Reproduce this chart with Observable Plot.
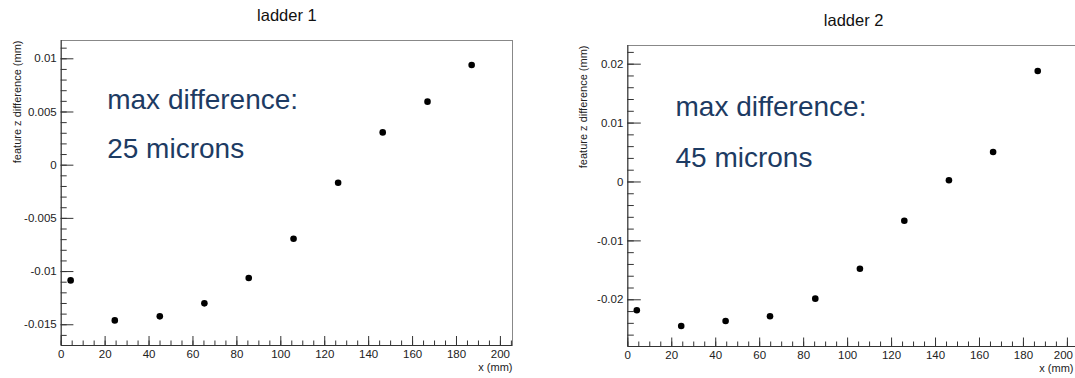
<!DOCTYPE html>
<html><head><meta charset="utf-8">
<script src="https://cdn.jsdelivr.net/npm/d3@7"></script>
<script src="https://cdn.jsdelivr.net/npm/@observablehq/plot@0.6"></script>
<style>
body{margin:0;background:#fff;}
#wrap{position:relative;width:1075px;height:378px;overflow:hidden;background:#fff;}
#wrap svg{position:absolute;top:0;font-family:"Liberation Sans",Arial,sans-serif;}
</style></head><body><div id="wrap"></div>
<script>
// ---- data ----
const ladder1X = [4.3, 24.4, 44.9, 65.2, 85.4, 105.8, 126.1, 146.4, 166.8, 186.9];
const ladder1Z = [-0.01083, -0.01459, -0.01421, -0.01299, -0.01061, -0.00691, -0.00165, 0.00308, 0.00597, 0.00941];
const ladder2X = [4.1, 24.3, 44.5, 64.7, 85.3, 105.6, 125.8, 146.1, 166.2, 186.5];
const ladder2Z = [-0.02178, -0.02445, -0.0236, -0.0228, -0.01981, -0.01472, -0.00657, 0.00029, 0.00509, 0.01885];
const xDomain = [0, 205.5];
const ladder1YDomain = [-0.01695, 0.01172];
const ladder2YDomain = [-0.02793, 0.02317];
const xTicks = [0, 20, 40, 60, 80, 100, 120, 140, 160, 180, 200];
const ladder1YTicks = [-0.015, -0.01, -0.005, 0, 0.005, 0.01];
const ladder2YTicks = [-0.02, -0.01, 0, 0.01, 0.02];
const ladder1MinorStep = 0.001;
const ladder2MinorStep = 0.002;
const xMinorStep = 5;
const titles = ["ladder 1", "ladder 2"];
const ladder1Note = ["max difference:", "25 microns"];
const ladder2Note = ["max difference:", "45 microns"];
const yLabel = "feature z difference (mm)";
const xLabel = "x (mm)";

function minorTicks(dom, step) {
  const out = [];
  for (let k = Math.ceil(dom[0] / step - 1e-9); k * step <= dom[1] + 1e-12; k++) out.push(+(k * step).toFixed(6));
  return out;
}

function panel(cfg) {
  const {xs, zs, yDomain, yTicks, yStep, title, note, left, width, ml, mr, mt, mb,
         yTickLen, yMinorLen, xTickLen, xMinorLen, titleBase, noteDx, noteBase, yLabDx, edgeShift, xLabDx} = cfg;
  const H = 378;
  const iw = width - ml - mr, ih = H - mt - mb;
  const pts = xs.map((x, i) => ({x, z: zs[i]}));
  const fmt = d => String(d);
  const lastTick = xTicks[xTicks.length - 1];
  const svg = Plot.plot({
    width, height: H,
    marginLeft: ml, marginRight: mr, marginTop: mt, marginBottom: mb,
    style: {background: "transparent", fontFamily: "Liberation Sans, Arial, sans-serif"},
    x: {domain: xDomain, axis: null},
    y: {domain: yDomain, axis: null},
    marks: [
      Plot.frame({stroke: "#888"}),
      Plot.tickY(minorTicks(yDomain, yStep), {y: d => d, insetRight: iw - yMinorLen, stroke: "#333"}),
      Plot.tickY(yTicks, {y: d => d, insetRight: iw - yTickLen, stroke: "#333"}),
      Plot.tickX(minorTicks(xDomain, xMinorStep), {x: d => d, insetTop: ih - xMinorLen, stroke: "#333"}),
      Plot.tickX(xTicks, {x: d => d, insetTop: ih - xTickLen, stroke: "#333"}),
      Plot.ruleX([xDomain[0]], {stroke: "#333"}),
      Plot.ruleY([yDomain[0]], {stroke: "#333"}),
      Plot.text(yTicks, {y: d => d, frameAnchor: "left", text: fmt, textAnchor: "end", dx: -4.5, fontSize: 11.5, fill: "#222"}),
      Plot.text(xTicks.filter(d => d !== lastTick), {x: d => d, frameAnchor: "bottom", text: fmt, lineAnchor: "top", dy: 4.5, fontSize: 11.5, fill: "#222"}),
      Plot.text([lastTick], {x: d => d, frameAnchor: "bottom", text: fmt, lineAnchor: "top", dy: 4.5, dx: edgeShift, fontSize: 11.5, fill: "#222"}),
      Plot.dot(pts, {x: "x", y: "z", r: 3.3, fill: "#000", stroke: null}),
      Plot.text([title], {frameAnchor: "top", lineAnchor: "bottom", dy: titleBase - mt, fontSize: 16.5, fill: "#111"}),
      Plot.text([note[0]], {frameAnchor: "top-left", textAnchor: "start", lineAnchor: "bottom", dx: noteDx, dy: noteBase[0] - mt, fontSize: 28, fill: "#1d3b63"}),
      Plot.text([note[1]], {frameAnchor: "top-left", textAnchor: "start", lineAnchor: "bottom", dx: noteDx, dy: noteBase[1] - mt, fontSize: 28, fill: "#1d3b63"}),
      Plot.text([yLabel], {frameAnchor: "top-left", rotate: -90, textAnchor: "end", lineAnchor: "middle", dx: yLabDx, fontSize: 11, fill: "#222"}),
      Plot.text([xLabel], {frameAnchor: "bottom-right", textAnchor: "end", lineAnchor: "bottom", dy: 25, dx: xLabDx, fontSize: 11, fill: "#222"})
    ]
  });
  svg.style.left = left + "px";
  document.getElementById("wrap").appendChild(svg);
}

panel({xs: ladder1X, zs: ladder1Z, yDomain: ladder1YDomain, yTicks: ladder1YTicks, yStep: ladder1MinorStep,
  title: titles[0], note: ladder1Note, left: 0, width: 530, ml: 60.7, mr: 18, mt: 40, mb: 33,
  yTickLen: 12.7, yMinorLen: 6, xTickLen: 9, xMinorLen: 4.5, titleBase: 20.7, noteDx: 46, noteBase: [108, 157], yLabDx: -43.7,
  edgeShift: 0, xLabDx: 0});
panel({xs: ladder2X, zs: ladder2Z, yDomain: ladder2YDomain, yTicks: ladder2YTicks, yStep: ladder2MinorStep,
  title: titles[1], note: ladder2Note, left: 540, width: 560, ml: 87.3, mr: 21, mt: 45, mb: 32,
  yTickLen: 13.5, yMinorLen: 6.5, xTickLen: 8.5, xMinorLen: 4.5, titleBase: 25.5, noteDx: 47.7, noteBase: [115, 166], yLabDx: -44.3,
  edgeShift: -4, xLabDx: -6});
</script></body></html>
